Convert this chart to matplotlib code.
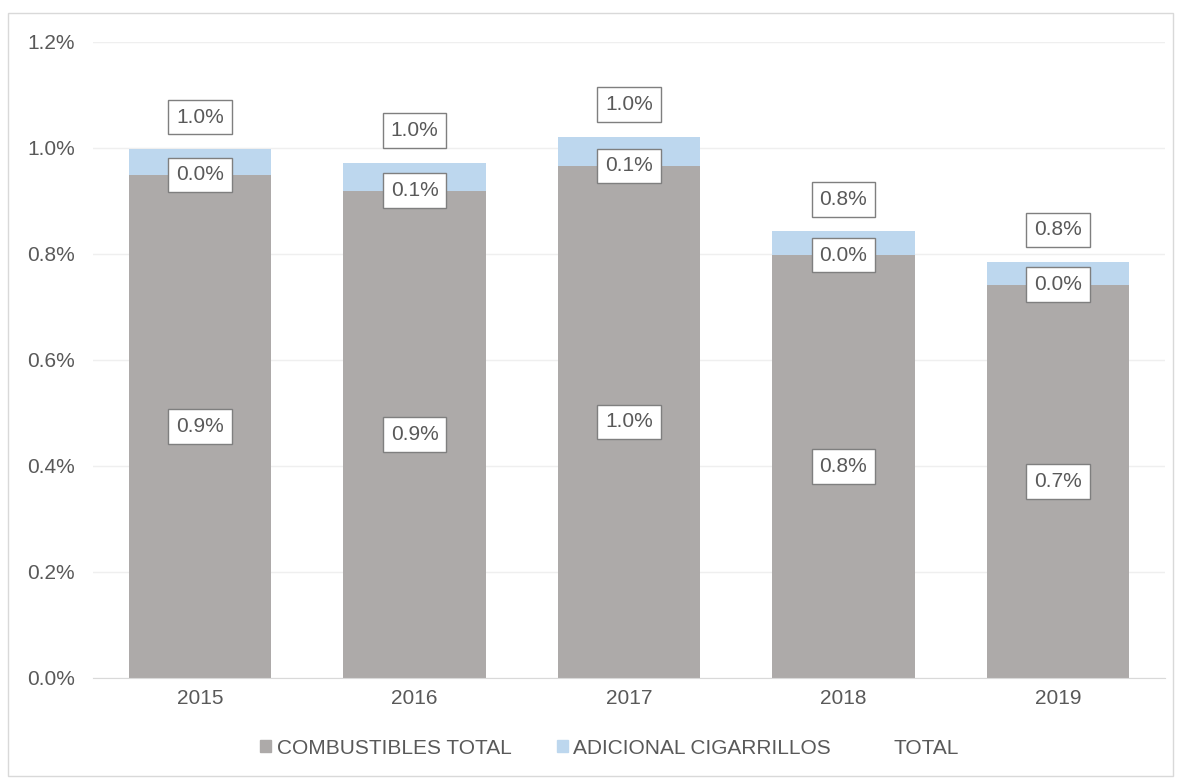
import matplotlib
matplotlib.use('Agg')
import matplotlib.pyplot as plt
from matplotlib.patches import Patch, Rectangle
from matplotlib.ticker import FuncFormatter

years = ['2015', '2016', '2017', '2018', '2019']
combustibles = [0.949, 0.919, 0.966, 0.798, 0.742]
cigarrillos = [0.049, 0.053, 0.055, 0.045, 0.043]
total = [0.998, 0.972, 1.021, 0.843, 0.785]

GRAY = '#ADAAA9'
BLUE = '#BDD7EE'
TEXT = '#595959'

plt.rcParams['font.family'] = ['Liberation Sans', 'DejaVu Sans']
plt.rcParams['font.size'] = 15

fig = plt.figure(figsize=(11.81, 7.80), dpi=100)
ax = fig.add_axes([0.0787, 0.1308, 0.9078, 0.8154])
fig.patches.append(Rectangle((0.007, 0.005), 0.986, 0.978, transform=fig.transFigure,
                             fill=False, edgecolor='#D9D9D9', linewidth=1))

x = range(len(years))
ax.bar(x, combustibles, width=0.665, color=GRAY, zorder=2)
ax.bar(x, cigarrillos, width=0.665, bottom=combustibles, color=BLUE, zorder=2)

box = dict(boxstyle='square,pad=0.38', facecolor='white', edgecolor='#7F7F7F', linewidth=1)
for i in x:
    ax.text(i, combustibles[i] / 2, f'{combustibles[i]:.1f}%', ha='center', va='center',
            color=TEXT, fontsize=15, bbox=box, zorder=4)
    ax.text(i, combustibles[i], f'{cigarrillos[i]:.1f}%', ha='center', va='center',
            color=TEXT, fontsize=15, bbox=box, zorder=4)
    ax.annotate(f'{total[i]:.1f}%', (i, total[i]), xytext=(0, 23), textcoords='offset points',
                ha='center', va='center', color=TEXT, fontsize=15, bbox=box, zorder=4)

ax.set_ylim(0, 1.2)
ax.set_xlim(-0.5, len(years) - 0.5)
ax.set_yticks([0, 0.2, 0.4, 0.6, 0.8, 1.0, 1.2])
ax.yaxis.set_major_formatter(FuncFormatter(lambda v, _: f'{v:.1f}%'))
ax.set_xticks(list(x), years)
ax.tick_params(length=0, colors=TEXT, labelsize=15)
ax.tick_params(axis='x', pad=8)
ax.tick_params(axis='y', pad=13)
ax.grid(axis='y', color='#EFEFEF', linewidth=1, zorder=0)
for side in ['top', 'right', 'left']:
    ax.spines[side].set_visible(False)
ax.spines['bottom'].set_color('#D9D9D9')

handles = [Patch(color=GRAY), Patch(color=BLUE), Patch(color='none')]
fig.legend(handles, ['COMBUSTIBLES TOTAL', 'ADICIONAL CIGARRILLOS', 'TOTAL'],
           loc='center', bbox_to_anchor=(0.516, 0.041), ncol=3, frameon=False,
           handlelength=0.53, handleheight=0.53, handletextpad=0.25, columnspacing=2.2,
           labelcolor=TEXT, fontsize=15)

fig.savefig('out.png', dpi=100)
